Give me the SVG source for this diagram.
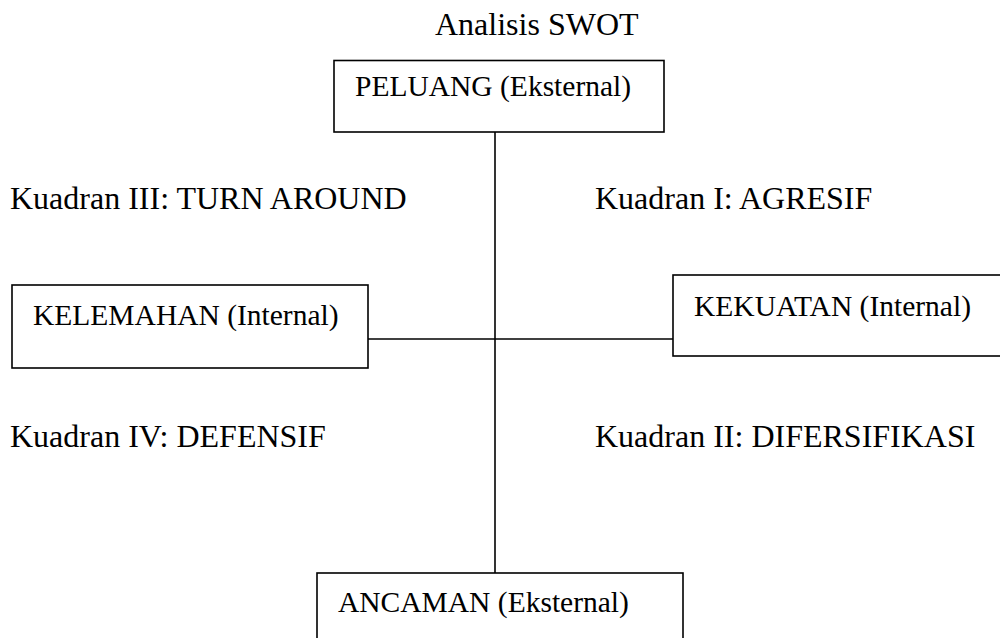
<svg xmlns="http://www.w3.org/2000/svg" width="1000" height="638" viewBox="0 0 1000 638">
<style>
.box{fill:#fff;stroke:#000;stroke-width:1.6}
.ln{stroke:#000;stroke-width:1.6;fill:none}
.t{font-family:"Liberation Serif","Times New Roman",serif;font-size:32px;fill:#000}
.b{font-family:"Liberation Serif","Times New Roman",serif;font-size:29.5px;fill:#000}
</style>
<rect width="1000" height="638" fill="#fff"/>
<g id="connectors">
<line class="ln" x1="495" y1="132" x2="495" y2="573"/>
<line class="ln" x1="368" y1="339" x2="675" y2="339"/>
</g>
<text id="title" class="t" x="435" y="35">Analisis SWOT</text>
<g id="peluang">
<rect class="box" x="334" y="60.5" width="330" height="71.5"/>
<text class="b" x="355" y="96">PELUANG (Eksternal)</text>
</g>
<g id="kelemahan">
<rect class="box" x="12" y="285" width="356" height="83"/>
<text class="b" x="33" y="325">KELEMAHAN (Internal)</text>
</g>
<g id="kekuatan">
<rect class="box" x="673" y="275" width="340" height="81"/>
<text class="b" x="694" y="316">KEKUATAN (Internal)</text>
</g>
<g id="ancaman">
<rect class="box" x="317" y="573" width="366" height="80"/>
<text class="b" x="338" y="612">ANCAMAN (Eksternal)</text>
</g>
<g id="quadrants">
<text class="t" x="10" y="209">Kuadran III: TURN AROUND</text>
<text class="t" x="595" y="209">Kuadran I: AGRESIF</text>
<text class="t" x="10" y="447">Kuadran IV: DEFENSIF</text>
<text class="t" x="595" y="447">Kuadran II: DIFERSIFIKASI</text>
</g>
</svg>
